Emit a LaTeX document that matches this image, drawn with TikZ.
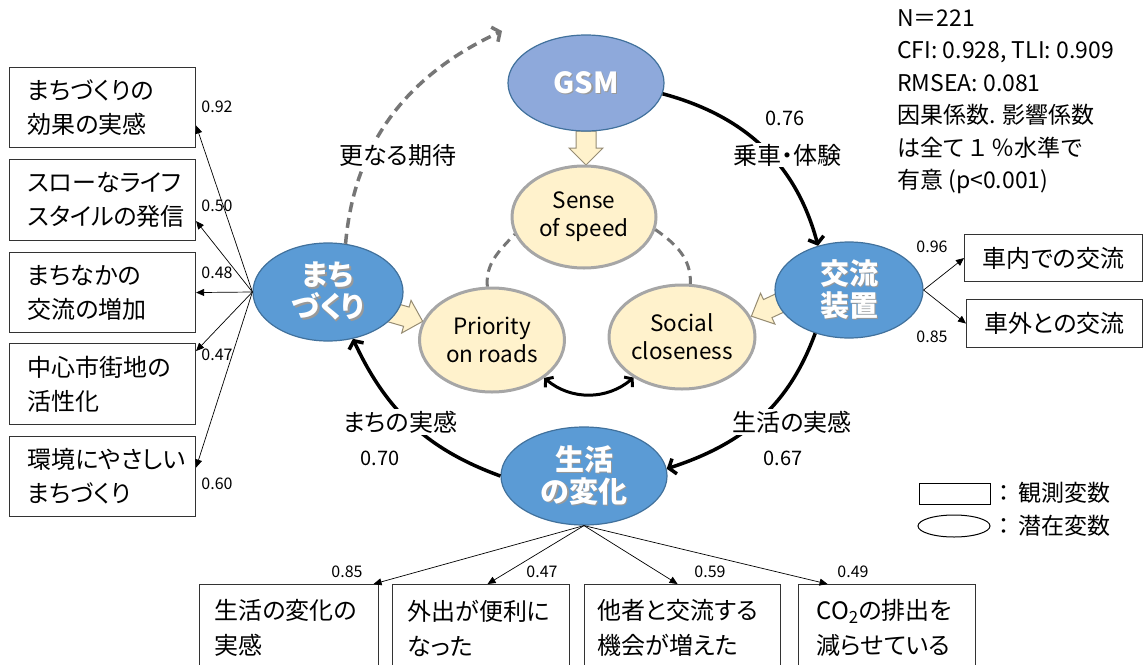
\documentclass[tikz,border=0pt]{standalone}
\usepackage{fontspec}
\setmainfont{Noto Sans CJK JP}[RawFeature=+palt]
\usepackage{tikz}
\usetikzlibrary{shapes.geometric,arrows.meta}

\definecolor{latentblue}{RGB}{91,155,213}
\definecolor{latentedge}{RGB}{65,113,156}
\definecolor{gsmblue}{RGB}{142,169,219}
\definecolor{factorfill}{RGB}{255,242,204}
\definecolor{factoredge}{RGB}{166,166,166}
\definecolor{blockedge}{RGB}{150,140,115}
\definecolor{dashgray}{RGB}{118,118,118}

\newcommand{\shadowed}[1]{\leavevmode\rlap{\kern1.5pt\raisebox{-1.5pt}{\textcolor{black!40}{#1}}}#1}

\begin{document}
\begin{tikzpicture}[x=1pt,y=-1pt,
  latent/.style={ellipse,draw=latentedge,line width=1.2pt,fill=latentblue,text=white,inner sep=0pt,align=center,font=\bfseries\fontsize{29}{32}\selectfont},
  factor/.style={ellipse,draw=factoredge,line width=3pt,fill=factorfill,inner sep=0pt,align=center,font=\fontsize{22.5}{28}\selectfont},
  obs/.style={draw=black!80,line width=1.1pt,fill=white,anchor=north west,align=left,inner ysep=0pt,font=\fontsize{24}{34}\selectfont},
  loading/.style={-{Triangle[length=8pt,width=7pt]},line width=0.7pt},
  coef/.style={inner sep=1pt,font=\fontsize{16}{18}\selectfont},
  effect/.style={line width=3.5pt,-{Straight Barb[length=6pt,width=16pt]}},
  arctext/.style={fill=white,inner sep=2pt,font=\fontsize{24}{27}\selectfont},
  arcnum/.style={inner sep=1pt,font=\fontsize{20}{22}\selectfont},
  block/.style={fill=factorfill,draw=blockedge,line width=1pt}]
\useasboundingbox (0,0) rectangle (1143,664);

% Block arrows (latent -> factor)
\draw[block,shift={(586,131)},rotate=-90] (0,-10) -- (17,-10) -- (17,-17) -- (34,0) -- (17,17) -- (17,10) -- (0,10) -- cycle;
\draw[block,shift={(390,312)},rotate=-16] (0,-10) -- (17,-10) -- (17,-17) -- (34,0) -- (17,17) -- (17,10) -- (0,10) -- cycle;
\draw[block,shift={(784,301)},rotate=-155] (0,-10) -- (18,-10) -- (18,-17) -- (36,0) -- (18,17) -- (18,10) -- (0,10) -- cycle;

% Latent variables
\node[latent,fill=gsmblue,minimum width=156,minimum height=96] (gsm) at (586,83) {\shadowed{GSM}};
\node[latent,minimum width=150,minimum height=98] (machi) at (328,292) {\shadowed{まち}\\\shadowed{づくり}};
\node[latent,minimum width=148,minimum height=96] (kouryu) at (849,290) {\shadowed{交流}\\\shadowed{装置}};
\node[latent,minimum width=166,minimum height=98] (henka) at (584,476) {\shadowed{生活}\\\shadowed{の変化}};

% Factors
\node[factor,minimum width=144,minimum height=102] (speed) at (584,217) {Sense\\of speed};
\node[factor,minimum width=145,minimum height=104] (prio) at (492,340) {Priority\\on roads};
\node[factor,minimum width=146,minimum height=104] (social) at (682,337) {Social\\closeness};

\draw[dashgray,line width=3pt,dash pattern=on 9pt off 6pt] (prio.95) to[out=95,in=227] (speed.194);
\draw[dashgray,line width=3pt,dash pattern=on 9pt off 6pt] (speed.-10) to[out=-35,in=88] (social.81);
\draw[line width=3pt,{Straight Barb[length=5pt,width=13pt]}-{Straight Barb[length=5pt,width=13pt]}] (prio.-36) to[out=-40,in=-140] (social.-140);

% Paths between latent variables
\coordinate (hope) at (502,31);
\draw[effect] (gsm.-8) to[out=-15,in=105] (kouryu.125);
\draw[effect] (kouryu.-128) to[out=-110,in=18] (henka.5);
\draw[effect] (henka.180) to[out=160,in=-65] (machi.-62);
\draw[effect,dashgray,dash pattern=on 10pt off 6pt] (machi.70) to[out=85,in=205] (hope);

\node[arctext] (t1) at (398,155) {更なる期待};
\node[arctext,inner sep=1pt] (t2) at (787,155) {乗車・体験};
\node[arcnum,fill=white] (n2) at (785,118) {0.76};
\node[arctext] (t3) at (792,422) {生活の実感};
\node[arcnum] (n3) at (783,458) {0.67};
\node[arctext] (t4) at (400,422) {まちの実感};
\node[arcnum] (n4) at (380,458) {0.70};

% Observed variables of machizukuri
\node[obs,text width=150,inner xsep=18,minimum height=80] (m1) at (9,67) {まちづくりの\\効果の実感};
\node[obs,text width=150,inner xsep=18,minimum height=81] (m2) at (9,159) {スローなライフ\\スタイルの発信};
\node[obs,text width=150,inner xsep=18,minimum height=80] (m3) at (9,252) {まちなかの\\交流の増加};
\node[obs,text width=150,inner xsep=18,minimum height=81] (m4) at (9,343) {中心市街地の\\活性化};
\node[obs,text width=150,inner xsep=18,minimum height=80] (m5) at (9,436) {環境にやさしい\\まちづくり};
\draw[loading] (machi.west) -- ([yshift=-18]m1.east);
\draw[loading] (machi.west) -- ([yshift=-21]m2.east);
\draw[loading] (machi.west) -- (m3.east);
\draw[loading] (machi.west) -- ([yshift=33]m4.east);
\draw[loading] (machi.west) -- ([yshift=9]m5.east);
\node[coef] (c1) at (217,107) {0.92};
\node[coef] (c2) at (217,206) {0.50};
\node[coef] (c3) at (217,273) {0.48};
\node[coef] (c4) at (217,355) {0.47};
\node[coef] (c5) at (217,484) {0.60};

% Observed variables of kouryu souchi
\node[obs,minimum width=178,minimum height=47] (k1) at (964,234) {車内での交流};
\node[obs,minimum width=176,minimum height=48] (k2) at (966,299) {車外との交流};
\draw[loading] (kouryu.east) -- (k1.west);
\draw[loading] (kouryu.east) -- (k2.west);
\node[coef] (c6) at (932,247) {0.96};
\node[coef] (c7) at (932,337) {0.85};

% Observed variables of seikatsu no henka
\node[obs,text width=149,inner xsep=15,minimum height=87,font=\fontsize{24}{35}\selectfont] (h1) at (199,584) {生活の変化の\\実感};
\node[obs,text width=147,inner xsep=15,minimum height=87,font=\fontsize{24}{35}\selectfont] (h2) at (392,584) {外出が便利に\\なった};
\node[obs,text width=170,inner xsep=13,minimum height=87,font=\fontsize{24}{35}\selectfont] (h3) at (584,584) {他者と交流する\\機会が増えた};
\node[obs,text width=141,inner xsep=18,minimum height=87,font=\fontsize{24}{35}\selectfont] (h4) at (798,584) {CO\textsubscript{2}の排出を\\減らせている};
\draw[loading] (henka.south) -- ([xshift=84.5]h1.north);
\draw[loading] (henka.south) -- ([xshift=6.5]h2.north);
\draw[loading] (henka.south) -- ([xshift=-5]h3.north);
\draw[loading] (henka.south) -- ([xshift=-59.5]h4.north);
\node[coef] (c8) at (347,572) {0.85};
\node[coef] (c9) at (542,572) {0.47};
\node[coef] (c10) at (710,572) {0.59};
\node[coef] (c11) at (853,572) {0.49};

% Fit indices and legend
\node[anchor=north west,align=left,inner sep=0pt,font=\fontsize{23}{32.5}\selectfont] (stats) at (897,9)
  {N＝221\\CFI: 0.928, TLI: 0.909\\RMSEA: 0.081\\因果係数. 影響係数\\は全て\kern5pt１\kern5pt％水準で\\有意 (p<0.001)};
\node[draw,line width=1pt,anchor=north west,minimum width=71,minimum height=21,inner sep=0pt] (legbox) at (919,483) {};
\node[draw,line width=1pt,ellipse,minimum width=72,minimum height=22,inner sep=0pt] (legell) at (954,526) {};
\node[anchor=west,inner sep=0pt,font=\fontsize{23}{26}\selectfont] (legobs) at (998,493) {：\kern9pt観測変数};
\node[anchor=west,inner sep=0pt,font=\fontsize{23}{26}\selectfont] (leglat) at (998,526) {：\kern9pt潜在変数};
\end{tikzpicture}
\end{document}
